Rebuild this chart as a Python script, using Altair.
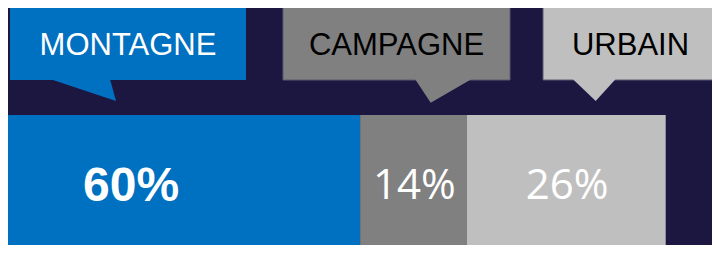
import altair as alt
import pandas as pd

# ---- data ----
regions = ["MONTAGNE", "CAMPAGNE", "URBAIN"]
share_labels = [60, 14, 26]            # printed percentages
bar_lengths = [54.1, 16.0, 29.9]       # drawn segment lengths (% of bar)
seg_colors = ["#0070C0", "#808080", "#BFBFBF"]
callout_text_colors = ["#FFFFFF", "#000000", "#000000"]

# ---- layout ----
BG = "#1B1740"
W, H = 704, 237
PX_PER_UNIT = 665.7 / 100.0


def u(px):
    return px / PX_PER_UNIT


x_scale = alt.Scale(domain=[u(8), u(712)], nice=False, zero=False)
y_scale = alt.Scale(domain=[8, 245], reverse=True, nice=False, zero=False)
color_scale = alt.Scale(domain=regions, range=seg_colors)

# bar segments
starts, ends = [], []
acc = 0.0
for v in bar_lengths:
    starts.append(acc)
    acc += v
    ends.append(acc)
bars = pd.DataFrame({
    "region": regions,
    "start": starts,
    "end": ends,
    "mid": [(a + b) / 2 for a, b in zip(starts, ends)],
    "label": [f"{s}%" for s in share_labels],
    "top": 115, "bottom": 250,
})

# callout boxes
box_px = [(10, 246), (283, 510), (543, 718)]
boxes = pd.DataFrame({
    "region": regions,
    "x0": [u(a) for a, b in box_px],
    "x1": [u(b) for a, b in box_px],
    "xc": [u((a + b) / 2) for a, b in box_px],
    "tcolor": callout_text_colors,
    "top": 5, "bottom": 80, "base": 55,
})

# pointer triangles (x px, top, bottom)
tri_pts = {
    "MONTAGNE": [(50, 79, 79), (110, 79, 99.1), (116, 101, 101)],
    "CAMPAGNE": [(415, 79, 79), (430.7, 79, 102.7), (471.7, 79, 79)],
    "URBAIN": [(572.7, 79, 79), (595.7, 79, 101), (615.7, 79, 79)],
}
tri_rows = []
for r in regions:
    for (px, t, b) in tri_pts[r]:
        tri_rows.append({"region": r, "x": u(px), "t": t, "b": b})
tris = pd.DataFrame(tri_rows)

color_enc = alt.Color("region:N", scale=color_scale, legend=None)

bar_layer = alt.Chart(bars).mark_rect(clip=True).encode(
    x=alt.X("start:Q", scale=x_scale, axis=None),
    x2="end:Q",
    y=alt.Y("top:Q", scale=y_scale, axis=None),
    y2="bottom:Q",
    color=color_enc,
)

label_main = alt.Chart(bars[bars.region == "MONTAGNE"]).mark_text(
    font="Liberation Sans", fontWeight="bold", fontSize=48, color="#FFFFFF",
    align="center", baseline="alphabetic", dx=-49,
).encode(
    x=alt.X("mid:Q", scale=x_scale, axis=None),
    y=alt.Y("bottom:Q", scale=y_scale, axis=None),
    text="label:N",
).transform_calculate(bottom="201")

label_rest = alt.Chart(bars[bars.region != "MONTAGNE"]).mark_text(
    font="Open Sans", fontSize=42, color="#FFFFFF",
    align="center", baseline="alphabetic", dx=1,
).encode(
    x=alt.X("mid:Q", scale=x_scale, axis=None),
    y=alt.Y("bottom:Q", scale=y_scale, axis=None),
    text="label:N",
).transform_calculate(bottom="199.3")

box_blue = alt.Chart(boxes[boxes.region == "MONTAGNE"]).mark_rect(clip=True).encode(
    x=alt.X("x0:Q", scale=x_scale, axis=None),
    x2="x1:Q",
    y=alt.Y("top:Q", scale=y_scale, axis=None),
    y2="bottom:Q",
    color=color_enc,
)
box_grey = alt.Chart(boxes[boxes.region != "MONTAGNE"]).mark_rect(
    stroke="#5A5A72", strokeWidth=1, clip=True
).encode(
    x=alt.X("x0:Q", scale=x_scale, axis=None),
    x2="x1:Q",
    y=alt.Y("top:Q", scale=y_scale, axis=None),
    y2="bottom:Q",
    color=color_enc,
)

tri_layer = alt.Chart(tris).mark_area(orient="vertical", interpolate="linear").encode(
    x=alt.X("x:Q", scale=x_scale, axis=None),
    y=alt.Y("t:Q", scale=y_scale, axis=None, stack=None),
    y2="b:Q",
    detail="region:N",
    color=color_enc,
)

box_text = alt.Chart(boxes).mark_text(
    font="Liberation Sans", fontSize=31, align="center", baseline="alphabetic",
).encode(
    x=alt.X("xc:Q", scale=x_scale, axis=None),
    y=alt.Y("base:Q", scale=y_scale, axis=None),
    text="region:N",
    color=alt.Color("tcolor:N", scale=None, legend=None),
)

chart = alt.layer(
    bar_layer, box_blue, box_grey, tri_layer, box_text, label_main, label_rest
).properties(
    width=W, height=H, padding=0, autosize="none"
).configure(background=BG).configure_view(stroke=None)

chart.save("out.html", embed_options={"renderer": "svg", "actions": False})
